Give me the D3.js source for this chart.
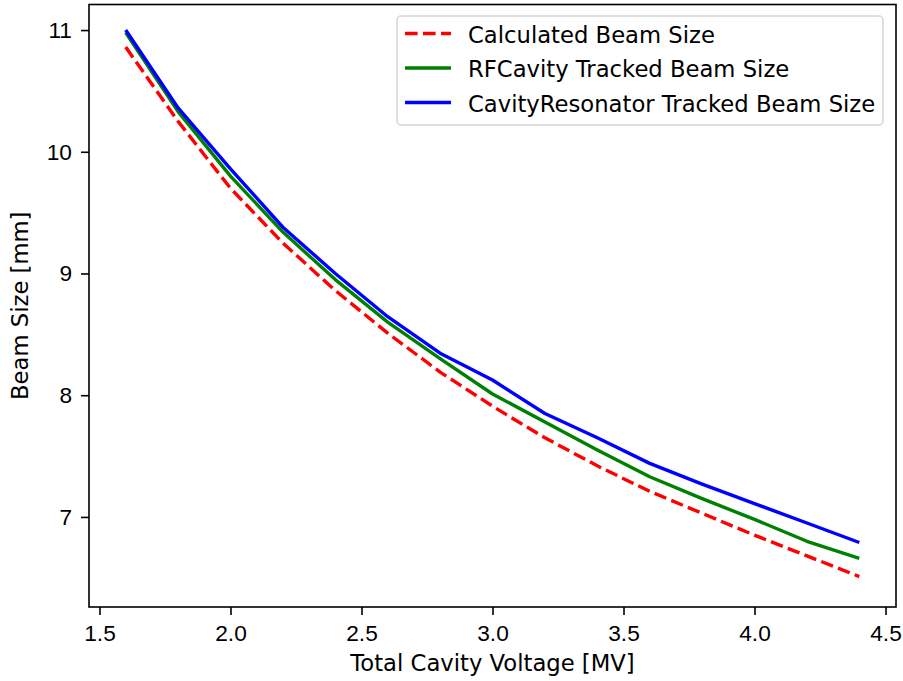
<!DOCTYPE html>
<html>
<head>
<meta charset="utf-8">
<script src="https://cdn.jsdelivr.net/npm/d3@7"></script>
<style>
  body { margin: 0; background: #fff; }
  svg { display: block; font-family: "DejaVu Sans", sans-serif; }
  .axis text { font-size: 22.7px; fill: #000; }
  .axis path { display: none; }
  .axis line { stroke: #000; stroke-width: 1.6; }
</style>
</head>
<body>
<div id="chart"></div>
<script>
// Data
const voltages = [1.6, 1.8, 2.0, 2.2, 2.4, 2.6, 2.8, 3.0, 3.2, 3.4, 3.6, 3.8, 4.0, 4.2, 4.4];
const calculatedSize = [10.86, 10.25, 9.70, 9.25, 8.86, 8.51, 8.19, 7.91, 7.65, 7.42, 7.21, 7.03, 6.85, 6.68, 6.51];
const rfCavitySize = [10.98, 10.33, 9.80, 9.34, 8.95, 8.60, 8.30, 8.01, 7.78, 7.55, 7.33, 7.15, 6.98, 6.80, 6.66];
const resonatorSize = [11.00, 10.36, 9.86, 9.38, 9.00, 8.645, 8.345, 8.125, 7.85, 7.65, 7.44, 7.27, 7.11, 6.95, 6.79];

const seriesLabels = ['Calculated Beam Size', 'RFCavity Tracked Beam Size', 'CavityResonator Tracked Beam Size'];
const seriesColors = ['#ff0000', '#008000', '#0000ff'];
const seriesDash = ['12.6,5.4', null, null];

const xTicks = [1.5, 2.0, 2.5, 3.0, 3.5, 4.0, 4.5];
const yTicks = [7, 8, 9, 10, 11];
const xLabel = 'Total Cavity Voltage [MV]';
const yLabel = 'Beam Size [mm]';

const width = 903;
const height = 681;
const margin = { top: 4.5, right: 7, bottom: 74, left: 89 };
const chartWidth = width - margin.left - margin.right;
const chartHeight = height - margin.top - margin.bottom;

const svg = d3.select('#chart').append('svg')
    .attr('width', width)
    .attr('height', height);

const g = svg.append('g')
    .attr('transform', `translate(${margin.left},${margin.top})`);

// Scales (matplotlib-like 5% padding)
const xScale = d3.scaleLinear()
    .domain([1.46, 4.54])
    .range([0, chartWidth]);

const yScale = d3.scaleLinear()
    .domain([6.26, 11.21])
    .range([chartHeight, 0]);

// Axes
g.append('g')
    .attr('class', 'axis')
    .attr('transform', `translate(0,${chartHeight})`)
    .call(d3.axisBottom(xScale).tickValues(xTicks).tickSize(8).tickPadding(10).tickFormat(d3.format('.1f')));

g.append('g')
    .attr('class', 'axis')
    .call(d3.axisLeft(yScale).tickValues(yTicks).tickSize(8).tickPadding(9).tickFormat(d3.format('d')));

// Lines
const series = [calculatedSize, rfCavitySize, resonatorSize];
const line = d3.line()
    .x((d, i) => xScale(voltages[i]))
    .y(d => yScale(d));

series.forEach((values, k) => {
    g.append('path')
        .datum(values)
        .attr('d', line)
        .attr('fill', 'none')
        .attr('stroke', seriesColors[k])
        .attr('stroke-width', 3.4)
        .attr('stroke-linejoin', 'round')
        .attr('stroke-dasharray', seriesDash[k]);
});

// Frame
g.append('rect')
    .attr('width', chartWidth)
    .attr('height', chartHeight)
    .attr('fill', 'none')
    .attr('stroke', '#000')
    .attr('stroke-width', 1.6);

// Axis labels
svg.append('text')
    .attr('x', margin.left + chartWidth / 2)
    .attr('y', 671)
    .attr('text-anchor', 'middle')
    .attr('font-size', 22.7)
    .text(xLabel);

svg.append('text')
    .attr('transform', `translate(28,${margin.top + chartHeight / 2}) rotate(-90)`)
    .attr('text-anchor', 'middle')
    .attr('font-size', 22.7)
    .text(yLabel);

// Legend
const legend = svg.append('g').attr('transform', 'translate(397,16)');
legend.append('rect')
    .attr('width', 486)
    .attr('height', 109)
    .attr('rx', 4)
    .attr('fill', '#fff')
    .attr('fill-opacity', 0.8)
    .attr('stroke', '#d5d5d5')
    .attr('stroke-width', 1.5);

seriesLabels.forEach((label, k) => {
    const y = 17.5 + k * 34.5;
    legend.append('line')
        .attr('x1', 8).attr('x2', 54)
        .attr('y1', y).attr('y2', y)
        .attr('stroke', seriesColors[k])
        .attr('stroke-width', 3.4)
        .attr('stroke-dasharray', seriesDash[k]);
    legend.append('text')
        .attr('x', 71)
        .attr('y', y + 9)
        .attr('font-size', 22.7)
        .text(label);
});
</script>
</body>
</html>
